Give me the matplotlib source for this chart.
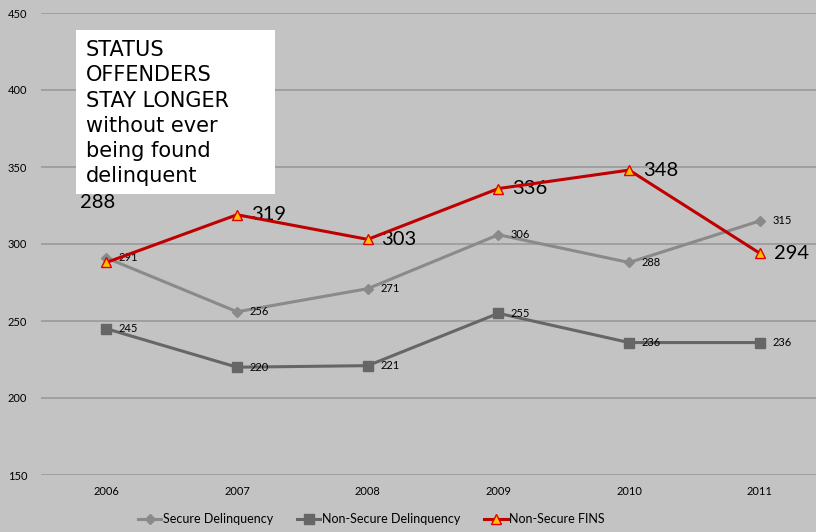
import matplotlib.pyplot as plt
import numpy as np

years = ['2006', '2007', '2008', '2009', '2010', '2011']
secure_delinq = [291, 256, 271, 306, 288, 315]
nonsecure_delinq = [245, 220, 221, 255, 236, 236]
nonsecure_fins = [288, 319, 303, 336, 348, 294]
yticks = [150, 200, 250, 300, 350, 400, 450]

bg = '#c3c3c3'
fig = plt.figure(figsize=(8.16, 5.32), dpi=100, facecolor=bg)
ax = fig.add_axes([41 / 816, 1 - 475 / 532, 1 - 41 / 816, (475 - 13) / 532])
ax.set_facecolor(bg)

x = np.arange(len(years))

ax.plot(x, secure_delinq, color='#8a8a8a', lw=2.2, marker='D', ms=5,
        mfc='#8a8a8a', mec='#8a8a8a', label='Secure Delinquency', zorder=3)
ax.plot(x, nonsecure_delinq, color='#666666', lw=2.2, marker='s', ms=6.5,
        mfc='#666666', mec='#666666', label='Non-Secure Delinquency', zorder=3)
ax.plot(x, nonsecure_fins, color='#c00000', lw=2.2, marker='^', ms=7,
        mfc='#ffc000', mec='#e00000', mew=1, label='Non-Secure FINS', zorder=4)

# small data labels
for xi, v in zip(x, secure_delinq):
    ax.annotate(str(v), (xi, v), xytext=(9, 0), textcoords='offset points',
                fontsize=8, family='Lato', va='center', ha='left')
for xi, v in zip(x, nonsecure_delinq):
    ax.annotate(str(v), (xi, v), xytext=(9, 0), textcoords='offset points',
                fontsize=8, family='Lato', va='center', ha='left')

# big labels for FINS
for i, (xi, v) in enumerate(zip(x, nonsecure_fins)):
    if i == 0:
        ax.annotate(str(v), (xi, v), xytext=(-6, 43), textcoords='offset points',
                    fontsize=14.5, family='Lato', va='center', ha='center')
    else:
        ax.annotate(str(v), (xi, v), xytext=(10, 0), textcoords='offset points',
                    fontsize=14.5, family='Lato', va='center', ha='left')

ax.set_ylim(150, 450)
ax.set_yticks(yticks)
ax.set_xlim(-0.5, 5.43)
ax.set_xticks(x)
ax.set_xticklabels(years)
ax.tick_params(length=0, labelsize=8, pad=8)
for lab in ax.get_xticklabels() + ax.get_yticklabels():
    lab.set_family('Lato')
ax.tick_params(axis='y', pad=10)
ax.grid(True, axis='y', color='#9a9a9a', lw=1.2)
ax.set_axisbelow(True)
for s in ax.spines.values():
    s.set_visible(False)

# callout box
fig.patches.append(plt.Rectangle((76 / 816, 1 - 194 / 532), 199 / 816, 164 / 532,
                                 transform=fig.transFigure, facecolor='white',
                                 edgecolor='none', zorder=5))
fig.text(86 / 816, 1 - 40 / 532,
         'STATUS\nOFFENDERS\nSTAY LONGER\nwithout ever\nbeing found\ndelinquent',
         fontsize=15, family='DejaVu Sans', va='top', ha='left',
         linespacing=1.33, zorder=6)

fig.legend(loc='center', bbox_to_anchor=(371 / 816, 1 - 519 / 532), ncol=3,
           frameon=False, prop={'family': 'Lato', 'size': 9},
           handlelength=1.9, handletextpad=0.1, columnspacing=1.9)

fig.savefig('out.png', dpi=100, facecolor=bg)
